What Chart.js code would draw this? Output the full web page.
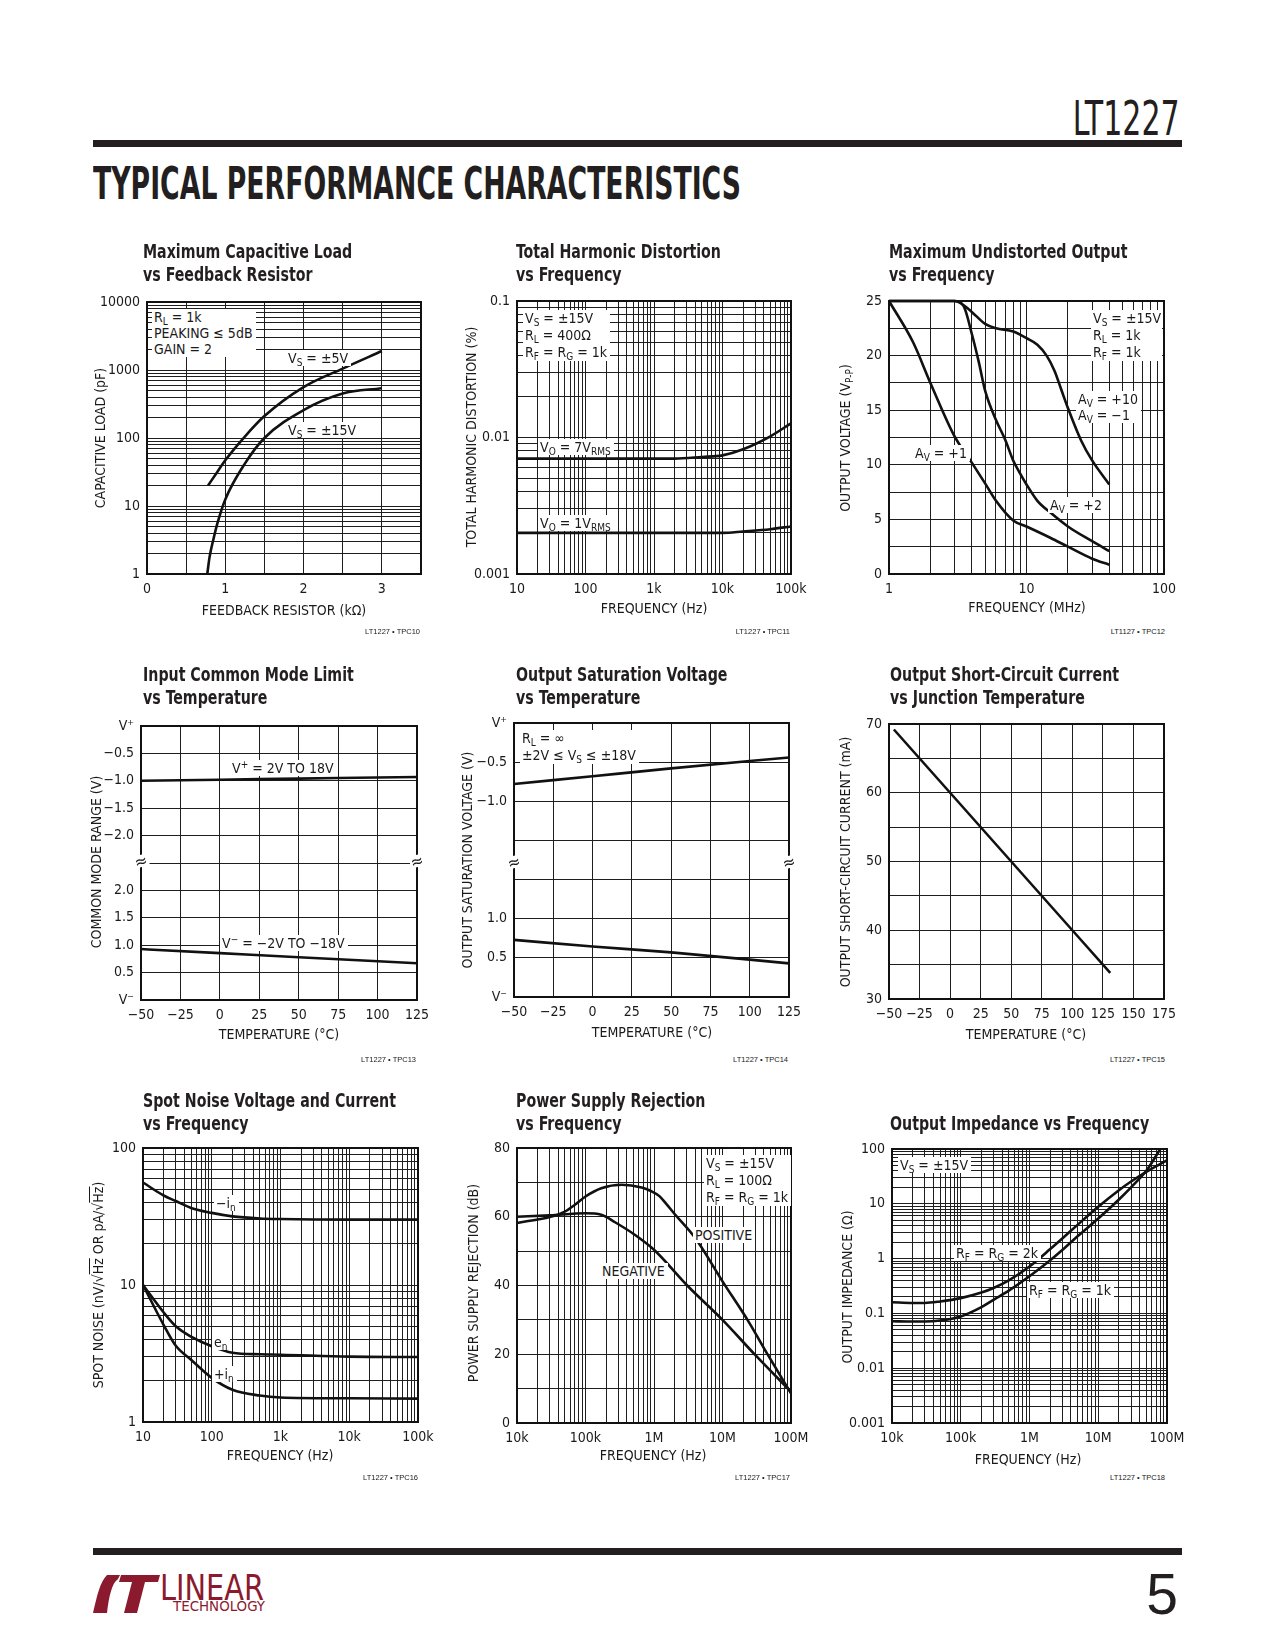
<!DOCTYPE html>
<html><head><meta charset="utf-8">
<script src="https://cdn.jsdelivr.net/npm/chart.js@4.4.0/dist/chart.umd.min.js"></script>
<style>
body{margin:0;background:#fff;}
#page{position:relative;width:1275px;height:1650px;overflow:hidden;background:#fff;font-family:'Liberation Sans Narrow','DejaVu Sans Condensed','Roboto Condensed',sans-serif;color:#1a1a1a;}
canvas{position:absolute;z-index:1;}
.ttl{position:absolute;font-weight:bold;font-size:19px;line-height:23px;color:#231f20;white-space:nowrap;z-index:2;transform:scaleX(0.83);transform-origin:left top;}
.ax{position:absolute;font-size:14px;line-height:16px;white-space:nowrap;z-index:2;}
.axy{transform:translate(-50%,-50%) rotate(-90deg);}
.axx{transform:translate(-50%,-50%);}
.lbl{position:absolute;font-size:14px;line-height:16px;background:#fff;padding:0 3px 0 2px;white-space:nowrap;z-index:3;}
sub{font-size:10px;vertical-align:-3px;line-height:0;}
sup{font-size:10px;vertical-align:5px;line-height:0;}
.tpc{position:absolute;font-family:'Liberation Sans',Arial,sans-serif;font-size:7.5px;line-height:8px;transform:translate(-100%,-50%);white-space:nowrap;z-index:2;}
.brk{position:absolute;font-size:17px;line-height:12px;background:#fff;transform:translate(-50%,-50%) rotate(-15deg);z-index:3;padding:0 1px;}
.ol{text-decoration:overline;}
</style></head>
<body><div id="page">

<div id="hdr" style="position:absolute;right:95px;top:94px;font-size:48px;line-height:48px;color:#231f20;white-space:nowrap;transform-origin:right center;">LT1227</div>
<div style="position:absolute;left:93px;top:140px;width:1089px;height:7px;background:#231f20;"></div>
<div id="bigt" style="position:absolute;left:93px;top:162px;font-size:44px;line-height:44px;font-weight:bold;color:#231f20;white-space:nowrap;transform-origin:left center;">TYPICAL PERFORMANCE CHARACTERISTICS</div>

<div style="position:absolute;left:93px;top:1548px;width:1089px;height:7px;background:#231f20;"></div>
<svg style="position:absolute;left:92px;top:1574px" width="70" height="40" viewBox="0 0 70 40">
 <path d="M15 1 L28 1 L26 5 C20 9 17 22 15 39 L1 39 C5 22 8 8 15 1 Z" fill="#8b1a2e"/>
 <path d="M29 1 L68 1 L66 8 L53 8 L45 39 L32 39 L40 8 L27 8 Z" fill="#8b1a2e"/>
</svg>
<div id="lin" style="position:absolute;left:160px;top:1570px;font-size:36px;line-height:36px;color:#8b1a2e;white-space:nowrap;transform-origin:left center;">LINEAR</div>
<div id="tech" style="position:absolute;left:173px;top:1599px;font-size:14px;line-height:14px;color:#8b1a2e;white-space:nowrap;transform-origin:left center;">TECHNOLOGY</div>
<div style="position:absolute;right:97px;top:1566px;font-size:57px;line-height:57px;color:#231f20;font-family:'Liberation Sans',sans-serif;">5</div>

<!-- chart titles -->
<div class="ttl" style="left:143px;top:240px;">Maximum Capacitive Load<br>vs Feedback Resistor</div>
<div class="ttl" style="left:516px;top:240px;">Total Harmonic Distortion<br>vs Frequency</div>
<div class="ttl" style="left:889px;top:240px;">Maximum Undistorted Output<br>vs Frequency</div>
<div class="ttl" style="left:143px;top:663px;">Input Common Mode Limit<br>vs Temperature</div>
<div class="ttl" style="left:516px;top:663px;">Output Saturation Voltage<br>vs Temperature</div>
<div class="ttl" style="left:890px;top:663px;">Output Short-Circuit Current<br>vs Junction Temperature</div>
<div class="ttl" style="left:143px;top:1089px;">Spot Noise Voltage and Current<br>vs Frequency</div>
<div class="ttl" style="left:516px;top:1089px;">Power Supply Rejection<br>vs Frequency</div>
<div class="ttl" style="left:890px;top:1112px;">Output Impedance vs Frequency</div>

<!-- axis titles -->
<div class="ax axy" style="left:100px;top:438px;">CAPACITIVE LOAD (pF)</div>
<div class="ax axx" style="left:284px;top:610px;">FEEDBACK RESISTOR (kΩ)</div>
<div class="ax axy" style="left:471px;top:437px;">TOTAL HARMONIC DISTORTION (%)</div>
<div class="ax axx" style="left:654px;top:608px;">FREQUENCY (Hz)</div>
<div class="ax axy" style="left:845px;top:438px;">OUTPUT VOLTAGE (V<sub>P-P</sub>)</div>
<div class="ax axx" style="left:1027px;top:607px;">FREQUENCY (MHz)</div>
<div class="ax axy" style="left:96px;top:862px;">COMMON MODE RANGE (V)</div>
<div class="ax axx" style="left:279px;top:1034px;">TEMPERATURE (°C)</div>
<div class="ax axy" style="left:467px;top:860px;">OUTPUT SATURATION VOLTAGE (V)</div>
<div class="ax axx" style="left:652px;top:1032px;">TEMPERATURE (°C)</div>
<div class="ax axy" style="left:845px;top:862px;">OUTPUT SHORT-CIRCUIT CURRENT (mA)</div>
<div class="ax axx" style="left:1026px;top:1034px;">TEMPERATURE (°C)</div>
<div class="ax axy" style="left:98px;top:1285px;">SPOT NOISE (nV/√<span class="ol">Hz</span> OR pA/√<span class="ol">Hz</span>)</div>
<div class="ax axx" style="left:280px;top:1455px;">FREQUENCY (Hz)</div>
<div class="ax axy" style="left:473px;top:1283px;">POWER SUPPLY REJECTION (dB)</div>
<div class="ax axx" style="left:653px;top:1455px;">FREQUENCY (Hz)</div>
<div class="ax axy" style="left:847px;top:1287px;">OUTPUT IMPEDANCE (Ω)</div>
<div class="ax axx" style="left:1028px;top:1459px;">FREQUENCY (Hz)</div>

<!-- figure ids -->
<div class="tpc" style="left:420px;top:632px;">LT1227 • TPC10</div>
<div class="tpc" style="left:790px;top:632px;">LT1227 • TPC11</div>
<div class="tpc" style="left:1165px;top:632px;">LT1127 • TPC12</div>
<div class="tpc" style="left:416px;top:1060px;">LT1227 • TPC13</div>
<div class="tpc" style="left:788px;top:1060px;">LT1227 • TPC14</div>
<div class="tpc" style="left:1165px;top:1060px;">LT1227 • TPC15</div>
<div class="tpc" style="left:418px;top:1478px;">LT1227 • TPC16</div>
<div class="tpc" style="left:790px;top:1478px;">LT1227 • TPC17</div>
<div class="tpc" style="left:1165px;top:1478px;">LT1227 • TPC18</div>

<!-- annotations -->
<div class="lbl" style="left:152px;top:309px;">R<sub>L</sub> = 1k<br>PEAKING ≤ 5dB<br>GAIN = 2</div>
<div class="lbl" style="left:286px;top:350px;">V<sub>S</sub> = ±5V</div>
<div class="lbl" style="left:286px;top:422px;">V<sub>S</sub> = ±15V</div>

<div class="lbl" style="left:523px;top:310px;line-height:17px;">V<sub>S</sub> = ±15V<br>R<sub>L</sub> = 400Ω<br>R<sub>F</sub> = R<sub>G</sub> = 1k</div>
<div class="lbl" style="left:538px;top:439px;">V<sub>O</sub> = 7V<sub>RMS</sub></div>
<div class="lbl" style="left:538px;top:515px;">V<sub>O</sub> = 1V<sub>RMS</sub></div>

<div class="lbl" style="left:1091px;top:310px;line-height:17px;width:66px;">V<sub>S</sub> = ±15V<br>R<sub>L</sub> = 1k<br>R<sub>F</sub> = 1k</div>
<div class="lbl" style="left:1076px;top:391px;">A<sub>V</sub> = +10<br>A<sub>V</sub> = −1</div>
<div class="lbl" style="left:913px;top:445px;">A<sub>V</sub> = +1</div>
<div class="lbl" style="left:1048px;top:497px;">A<sub>V</sub> = +2</div>

<div class="lbl" style="left:230px;top:760px;">V<sup>+</sup> = 2V TO 18V</div>
<div class="lbl" style="left:220px;top:935px;">V<sup>−</sup> = −2V TO −18V</div>
<div class="brk" style="left:141px;top:861px;">≈</div>
<div class="brk" style="left:417px;top:861px;">≈</div>

<div class="lbl" style="left:520px;top:730px;line-height:17px;">R<sub>L</sub> = ∞<br>±2V ≤ V<sub>S</sub> ≤ ±18V</div>
<div class="brk" style="left:514px;top:862px;">≈</div>
<div class="brk" style="left:789px;top:862px;">≈</div>

<div class="lbl" style="left:214px;top:1195px;">−i<sub>n</sub></div>
<div class="lbl" style="left:212px;top:1334px;">e<sub>n</sub></div>
<div class="lbl" style="left:212px;top:1366px;">+i<sub>n</sub></div>

<div class="lbl" style="left:704px;top:1155px;line-height:17px;">V<sub>S</sub> = ±15V<br>R<sub>L</sub> = 100Ω<br>R<sub>F</sub> = R<sub>G</sub> = 1k</div>
<div class="lbl" style="left:693px;top:1227px;">POSITIVE</div>
<div class="lbl" style="left:600px;top:1263px;">NEGATIVE</div>

<div class="lbl" style="left:898px;top:1157px;">V<sub>S</sub> = ±15V</div>
<div class="lbl" style="left:954px;top:1245px;">R<sub>F</sub> = R<sub>G</sub> = 2k</div>
<div class="lbl" style="left:1027px;top:1282px;">R<sub>F</sub> = R<sub>G</sub> = 1k</div>

</div>
<script>
// ================= DATA =================
// 1. Maximum capacitive load vs feedback resistor
const c1ResK_5V  = [0.78, 0.9, 1.0, 1.25, 1.5, 2.0, 2.5, 3.0];
const c1Cap_5V   = [20, 32, 47, 105, 210, 560, 1050, 1900];
const c1ResK_15V = [0.77, 0.8, 0.85, 0.9, 1.0, 1.25, 1.5, 2.0, 2.5, 3.0];
const c1Cap_15V  = [1, 1.8, 3.3, 5.6, 12.5, 42, 100, 257, 450, 540];
const c1XTickVals = [0, 1, 2, 3];
const c1XTickText = ['0', '1', '2', '3'];
const c1YTickVals = [1, 10, 100, 1000, 10000];
const c1YTickText = ['1', '10', '100', '1000', '10000'];

// 2. THD vs frequency
const c2Freq = [10, 100, 1000, 2000, 5000, 10000, 20000, 50000, 100000];
const c2Thd7V = [0.007, 0.007, 0.007, 0.007, 0.0072, 0.0074, 0.0082, 0.0102, 0.0127];
const c2Thd1V = [0.002, 0.002, 0.002, 0.002, 0.002, 0.002, 0.00205, 0.00213, 0.00223];
const c2XTickVals = [10, 100, 1000, 10000, 100000];
const c2XTickText = ['10', '100', '1k', '10k', '100k'];
const c2YTickVals = [0.001, 0.01, 0.1];
const c2YTickText = ['0.001', '0.01', '0.1'];

// 3. Maximum undistorted output vs frequency (MHz)
const c3FreqAv1 = [1, 1.5, 2, 3, 4, 5, 6, 8, 10, 15, 20, 30, 40];
const c3OutAv1  = [25, 21.2, 17.5, 12.6, 10.2, 8.3, 6.7, 4.9, 4.35, 3.3, 2.5, 1.4, 0.85];
const c3FreqAv2 = [1, 3, 3.5, 4, 4.5, 5, 6, 7, 8, 9, 10, 12, 15, 20, 30, 40];
const c3OutAv2  = [25, 25, 24.5, 22, 19.4, 16.8, 14.1, 12.3, 10.4, 9.2, 8.2, 6.7, 5.6, 4.35, 3.0, 2.1];
const c3FreqAv10 = [1, 3, 3.5, 4, 5, 6, 8, 10, 12, 14, 16, 18, 20, 25, 30, 40];
const c3OutAv10  = [25, 25, 24.6, 24, 22.9, 22.5, 22.2, 21.6, 21, 20, 18.6, 16.8, 15.2, 12.2, 10.4, 8.2];
const c3XTickVals = [1, 10, 100];
const c3XTickText = ['1', '10', '100'];
const c3YTickVals = [0, 5, 10, 15, 20, 25];
const c3YTickText = ['0', '5', '10', '15', '20', '25'];

// 4. Input common mode limit vs temperature (V from rail)
const c4Temp  = [-50, 0, 50, 125];
const c4Upper = [-1.0, -0.98, -0.96, -0.93];   // below V+
const c4Lower = [0.93, 0.855, 0.78, 0.67];     // above V-
const c4XTickVals = [-50, -25, 0, 25, 50, 75, 100, 125];
const c4XTickText = ['−50', '−25', '0', '25', '50', '75', '100', '125'];
const c4YTickText = ['V⁻', '0.5', '1.0', '1.5', '2.0', '', '−2.0', '−1.5', '−1.0', '−0.5', 'V⁺'];

// 5. Output saturation voltage vs temperature
const c5Temp  = [-50, 0, 50, 125];
const c5Upper = [-0.78, -0.68, -0.58, -0.44];
const c5Lower = [0.73, 0.645, 0.57, 0.43];
const c5XTickVals = [-50, -25, 0, 25, 50, 75, 100, 125];
const c5XTickText = ['−50', '−25', '0', '25', '50', '75', '100', '125'];
const c5YTickText = ['V⁻', '0.5', '1.0', '', '', '−1.0', '−0.5', 'V⁺'];

// 6. Output short-circuit current vs junction temperature
const c6Temp = [-46, 0, 50, 100, 131];
const c6Isc  = [69.2, 60, 50, 40, 33.8];
const c6XTickVals = [-50, -25, 0, 25, 50, 75, 100, 125, 150, 175];
const c6XTickText = ['−50', '−25', '0', '25', '50', '75', '100', '125', '150', '175'];
const c6YTickVals = [30, 40, 50, 60, 70];
const c6YTickText = ['30', '40', '50', '60', '70'];

// 7. Spot noise vs frequency
const c7Freq = [10, 20, 30, 50, 100, 200, 500, 1000, 10000, 100000];
const c7InNeg = [56, 45, 41, 36.5, 33.6, 31.7, 30.6, 30.3, 30, 30];
const c7En    = [10, 6.3, 5.0, 4.2, 3.57, 3.2, 3.12, 3.1, 3.0, 2.98];
const c7InPos = [10, 5.1, 3.6, 2.85, 2.1, 1.72, 1.56, 1.51, 1.49, 1.48];
const c7XTickVals = [10, 100, 1000, 10000, 100000];
const c7XTickText = ['10', '100', '1k', '10k', '100k'];
const c7YTickVals = [1, 10, 100];
const c7YTickText = ['1', '10', '100'];

// 8. Power supply rejection vs frequency
const c8FreqPos = [1e4, 2e4, 3e4, 5e4, 7e4, 1e5, 1.7e5, 3.4e5, 6.6e5, 9e5, 1.2e6, 1.5e6, 2e6, 4e6, 1e7, 2.4e7, 4.6e7, 1e8];
const c8Pos     = [58.2, 59.2, 59.9, 61.5, 63.5, 65.9, 68.3, 69.3, 68.5, 67.5, 66, 63.8, 60.8, 53.8, 41.2, 29.5, 19.8, 8.6];
const c8FreqNeg = [1e4, 3e4, 1e5, 1.7e5, 2.7e5, 5.3e5, 1e6, 3.16e6, 1e7, 3e7, 1e8];
const c8Neg     = [60, 60.4, 61, 60.6, 58.4, 54.7, 50.4, 39.7, 30, 19.8, 9.1];
const c8XTickVals = [1e4, 1e5, 1e6, 1e7, 1e8];
const c8XTickText = ['10k', '100k', '1M', '10M', '100M'];
const c8YTickVals = [0, 20, 40, 60, 80];
const c8YTickText = ['0', '20', '40', '60', '80'];

// 9. Output impedance vs frequency
const c9Freq2k = [1e4, 2e4, 3e4, 5e4, 1e5, 2e5, 3e5, 5e5, 1e6, 2e6, 3e6, 5e6, 1e7, 2e7, 3e7, 5e7, 1e8];
const c9Z2k    = [0.16, 0.155, 0.155, 0.165, 0.19, 0.24, 0.29, 0.40, 0.72, 1.49, 2.33, 4.13, 8.85, 17.7, 25.5, 38.4, 62];
const c9Freq1k = [1e4, 2e4, 3e4, 5e4, 1e5, 2e5, 3e5, 5e5, 1e6, 2e6, 3e6, 5e6, 1e7, 2e7, 3e7, 5e7, 8e7];
const c9Z1k    = [0.072, 0.071, 0.071, 0.074, 0.088, 0.13, 0.177, 0.26, 0.475, 0.93, 1.43, 2.55, 5.4, 12, 20, 40, 100];
const c9XTickVals = [1e4, 1e5, 1e6, 1e7, 1e8];
const c9XTickText = ['10k', '100k', '1M', '10M', '100M'];
const c9YTickVals = [0.001, 0.01, 0.1, 1, 10, 100];
const c9YTickText = ['0.001', '0.01', '0.1', '1', '10', '100'];

// ================= RENDERING =================
const FONT = "'Liberation Sans Narrow','DejaVu Sans Condensed','Roboto Condensed',sans-serif";
const ML = 70, MR = 35, MT = 20, MB = 40;
const page = document.getElementById('page');

function logGrid(min, max) {
  const out = [];
  for (let e = Math.floor(Math.log10(min)); e <= Math.ceil(Math.log10(max)); e++) {
    for (let m = 1; m < 10; m++) {
      const v = Number((m * Math.pow(10, e)).toPrecision(6));
      if (v >= min * 0.9999 && v <= max * 1.0001) out.push(v);
    }
  }
  return out;
}
function linGrid(min, max, step) {
  const out = [];
  for (let v = min; v <= max + 1e-9; v += step) out.push(Number(v.toFixed(6)));
  return out;
}
function labeler(vals, text) {
  return (v) => {
    const i = vals.findIndex(t => Math.abs(t - v) <= 1e-6 * Math.max(1, Math.abs(t)));
    return i >= 0 ? text[i] : '';
  };
}
function axis(side, type, min, max, grid, label) {
  return {
    type, min, max, position: side === 'x' ? 'bottom' : 'left',
    afterBuildTicks: s => { s.ticks = grid.map(v => ({ value: v })); },
    afterFit: s => { if (side === 'x') s.height = MB; else s.width = ML; },
    grid: { color: '#1e1e1e', lineWidth: 1, drawTicks: false },
    border: { display: false },
    ticks: {
      autoSkip: false, maxRotation: 0, minRotation: 0,
      padding: 7, color: '#1a1a1a',
      font: { family: FONT, size: 14 },
      callback: (v) => label(v)
    }
  };
}
function line(xs, ys, extra) {
  return Object.assign({
    data: xs.map((x, i) => ({ x, y: ys[i] })),
    borderColor: '#111', borderWidth: 2.6, pointRadius: 0, fill: false,
    cubicInterpolationMode: 'monotone', clip: 3
  }, extra || {});
}
const framePlugin = {
  id: 'frame',
  afterDraw(chart) {
    const { ctx, chartArea: a } = chart;
    ctx.save(); ctx.strokeStyle = '#111'; ctx.lineWidth = 2;
    ctx.strokeRect(a.left, a.top, a.right - a.left, a.bottom - a.top);
    ctx.restore();
  }
};
function makeChart(rect, xAx, yAx, datasets) {
  const cv = document.createElement('canvas');
  const W = rect.w + ML + MR, H = rect.h + MT + MB;
  cv.width = W; cv.height = H;
  cv.style.left = (rect.x - ML) + 'px'; cv.style.top = (rect.y - MT) + 'px';
  cv.style.width = W + 'px'; cv.style.height = H + 'px';
  page.insertBefore(cv, page.firstChild);
  new Chart(cv, {
    type: 'line',
    data: { datasets },
    options: {
      responsive: false, animation: false, events: [],
      layout: { padding: { top: MT, right: MR, left: 0, bottom: 0 } },
      plugins: { legend: { display: false }, tooltip: { enabled: false } },
      scales: { x: xAx, y: yAx }
    },
    plugins: [framePlugin]
  });
}

// Chart 1
makeChart({ x: 147, y: 302, w: 274, h: 272 },
  axis('x', 'linear', 0, 3.5, linGrid(0, 3.5, 0.5), labeler(c1XTickVals, c1XTickText)),
  axis('y', 'logarithmic', 1, 10000, logGrid(1, 10000), labeler(c1YTickVals, c1YTickText)),
  [line(c1ResK_5V, c1Cap_5V), line(c1ResK_15V, c1Cap_15V)]);

// Chart 2
makeChart({ x: 517, y: 301, w: 274, h: 273 },
  axis('x', 'logarithmic', 10, 100000, logGrid(10, 100000), labeler(c2XTickVals, c2XTickText)),
  axis('y', 'logarithmic', 0.001, 0.1, logGrid(0.001, 0.1), labeler(c2YTickVals, c2YTickText)),
  [line(c2Freq, c2Thd7V), line(c2Freq, c2Thd1V)]);

// Chart 3
makeChart({ x: 889, y: 301, w: 275, h: 273 },
  axis('x', 'logarithmic', 1, 100, logGrid(1, 100), labeler(c3XTickVals, c3XTickText)),
  axis('y', 'linear', 0, 25, linGrid(0, 25, 2.5), labeler(c3YTickVals, c3YTickText)),
  [line(c3FreqAv1, c3OutAv1), line(c3FreqAv2, c3OutAv2), line(c3FreqAv10, c3OutAv10)]);

// Chart 4 (broken axis: upper half referenced to V+, lower half to V-)
makeChart({ x: 141, y: 726, w: 276, h: 274 },
  axis('x', 'linear', -50, 125, linGrid(-50, 125, 25), labeler(c4XTickVals, c4XTickText)),
  axis('y', 'linear', 0, 10, linGrid(0, 10, 1), (v) => c4YTickText[Math.round(v)] || ''),
  [line(c4Temp, c4Upper.map(v => 10 + v / 0.5)), line(c4Temp, c4Lower.map(v => v / 0.5))]);

// Chart 5
makeChart({ x: 514, y: 723, w: 275, h: 274 },
  axis('x', 'linear', -50, 125, linGrid(-50, 125, 25), labeler(c5XTickVals, c5XTickText)),
  axis('y', 'linear', 0, 7, linGrid(0, 7, 1), (v) => c5YTickText[Math.round(v)] || ''),
  [line(c5Temp, c5Upper.map(v => 7 + v / 0.5)), line(c5Temp, c5Lower.map(v => v / 0.5))]);

// Chart 6
makeChart({ x: 889, y: 724, w: 275, h: 275 },
  axis('x', 'linear', -50, 175, linGrid(-50, 175, 25), labeler(c6XTickVals, c6XTickText)),
  axis('y', 'linear', 30, 70, linGrid(30, 70, 5), labeler(c6YTickVals, c6YTickText)),
  [line(c6Temp, c6Isc, { cubicInterpolationMode: 'default', tension: 0 })]);

// Chart 7
makeChart({ x: 143, y: 1148, w: 275, h: 274 },
  axis('x', 'logarithmic', 10, 100000, logGrid(10, 100000), labeler(c7XTickVals, c7XTickText)),
  axis('y', 'logarithmic', 1, 100, logGrid(1, 100), labeler(c7YTickVals, c7YTickText)),
  [line(c7Freq, c7InNeg), line(c7Freq, c7En), line(c7Freq, c7InPos)]);

// Chart 8
makeChart({ x: 517, y: 1148, w: 274, h: 275 },
  axis('x', 'logarithmic', 1e4, 1e8, logGrid(1e4, 1e8), labeler(c8XTickVals, c8XTickText)),
  axis('y', 'linear', 0, 80, linGrid(0, 80, 10), labeler(c8YTickVals, c8YTickText)),
  [line(c8FreqPos, c8Pos), line(c8FreqNeg, c8Neg)]);

// Chart 9
makeChart({ x: 892, y: 1149, w: 275, h: 274 },
  axis('x', 'logarithmic', 1e4, 1e8, logGrid(1e4, 1e8), labeler(c9XTickVals, c9XTickText)),
  axis('y', 'logarithmic', 0.001, 100, logGrid(0.001, 100), labeler(c9YTickVals, c9YTickText)),
  [line(c9Freq2k, c9Z2k), line(c9Freq1k, c9Z1k, { clip: 0 })]);

// fit header texts to their widths
function fitW(id, w) {
  const el = document.getElementById(id);
  const cur = el.getBoundingClientRect().width;
  if (cur > 0) el.style.transform = 'scaleX(' + (w / cur) + ')';
}
fitW('hdr', 107); fitW('bigt', 648); fitW('lin', 104); fitW('tech', 92);
</script>
</body></html>
